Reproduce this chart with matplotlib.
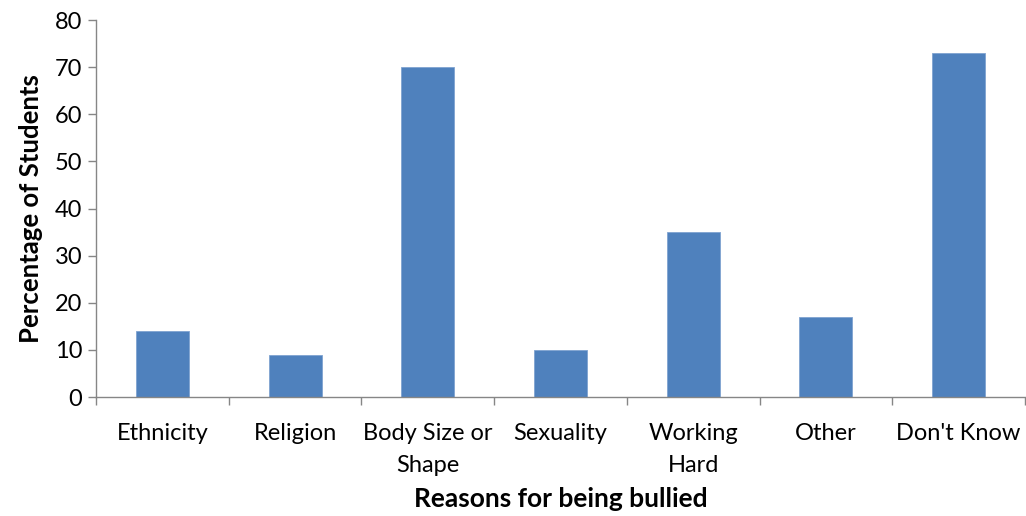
import matplotlib.pyplot as plt
import numpy as np

reasons = ["Ethnicity", "Religion", "Body Size or\nShape", "Sexuality",
           "Working\nHard", "Other", "Don't Know"]
percent = [14, 9, 70, 10, 35, 17, 73]

plt.rcParams['font.family'] = ['Lato', 'DejaVu Sans']

fig = plt.figure(figsize=(10.26, 5.16), dpi=100)
ax = fig.add_axes([96 / 1026, 1 - 397 / 516, 929 / 1026, 377 / 516])

x = np.arange(len(reasons))
ax.bar(x, percent, width=0.4, color="#4F81BD", edgecolor="#7FA3D1", linewidth=0.6)

ax.set_xlim(-0.5, len(reasons) - 0.5)
ax.set_ylim(0, 80)
ax.set_yticks(range(0, 81, 10))

# category labels sit between boundary ticks, as in a spreadsheet chart
ax.set_xticks(x)
ax.set_xticklabels(reasons, fontsize=17, linespacing=1.6, va="top")
ax.tick_params(axis="x", length=0, pad=19)
ax.set_xticks(np.arange(-0.5, len(reasons)), minor=True)
ax.tick_params(axis="x", which="minor", length=6, color="#868686", width=1)
ax.tick_params(axis="y", length=6, color="#868686", width=1, labelsize=17, pad=4)

for side in ("top", "right"):
    ax.spines[side].set_visible(False)
for side in ("left", "bottom"):
    ax.spines[side].set_color("#868686")
    ax.spines[side].set_linewidth(1)

ax.set_ylabel("Percentage of Students", fontsize=18.5, fontweight="bold", labelpad=8)
ax.set_xlabel("Reasons for being bullied", fontsize=19, fontweight="bold", labelpad=8)

fig.savefig("out.png", dpi=100)
